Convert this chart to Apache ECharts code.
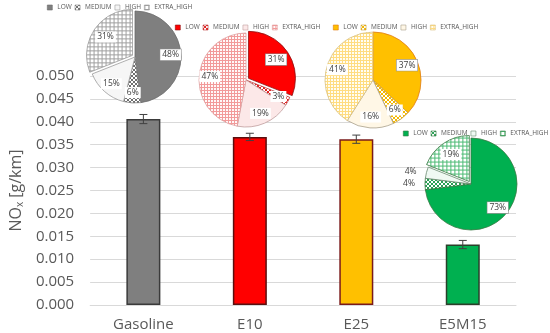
<!DOCTYPE html>
<html><head><meta charset="utf-8">
<script src="https://cdn.jsdelivr.net/npm/echarts@6/dist/echarts.min.js"></script>
<style>html,body{margin:0;padding:0;background:#fff}#c{width:550px;height:333px}</style>
</head><body><div id="c"></div>
<script>
// ---- data ----
const categories = ['Gasoline', 'E10', 'E25', 'E5M15'];
const noxValues = [0.0406, 0.0367, 0.0362, 0.0132];
const noxErrors = [0.0010, 0.0008, 0.0009, 0.0009];
const levelNames = ['LOW', 'MEDIUM', 'HIGH', 'EXTRA_HIGH'];
const shareGasoline = [48, 6, 15, 31];
const shareE10 = [31, 3, 19, 47];
const shareE25 = [37, 6, 16, 41];
const shareE5M15 = [73, 4, 4, 19];
const yMin = 0, yMax = 0.05, yStep = 0.005;

// ---- styles ----
const FONT = 'Open Sans';
function pattern(kind, fg, bg, size) {
  const s = size || 4;
  const c = document.createElement('canvas');
  c.width = s; c.height = s;
  const g = c.getContext('2d');
  g.fillStyle = bg; g.fillRect(0, 0, s, s);
  g.fillStyle = fg;
  if (kind === 'grid') {
    g.fillRect(0, 0, s, 1); g.fillRect(0, 0, 1, s);
  } else if (kind === 'diag') {
    for (let i = 0; i < s; i++) { g.fillRect(i, i, 1, 1); g.fillRect(s - 1 - i, i, 1, 1); }
  }
  return { image: c, repeat: 'repeat' };
}
const pieStyles = {
  Gasoline: [
    { color: '#7f7f7f', border: '#6b6b6b' },
    { color: pattern('diag', '#6f6f6f', '#ffffff', 4), border: '#7f7f7f' },
    { color: '#f6f6f6', border: '#9a9a9a' },
    { color: pattern('grid', '#a0a0a0', '#ffffff', 4), border: '#9a9a9a' }
  ],
  E10: [
    { color: '#ff0000', border: '#8b1010' },
    { color: pattern('diag', '#e02020', '#ffffff', 4), border: '#c04040' },
    { color: '#fce8e8', border: '#c0a0a0' },
    { color: pattern('grid', '#f29a9a', '#fff8f8', 3), border: '#e0a0a0' }
  ],
  E25: [
    { color: '#ffc000', border: '#e07a10' },
    { color: pattern('diag', '#f5b800', '#ffffff', 4), border: '#c8a040' },
    { color: '#fff7e6', border: '#a8a08c' },
    { color: pattern('grid', '#ffdc80', '#fffdf2', 3), border: '#d8c080' }
  ],
  E5M15: [
    { color: '#00b050', border: '#3a7a44' },
    { color: pattern('diag', '#2aa055', '#ffffff', 4), border: '#3a7a44' },
    { color: '#f0f9f3', border: '#6a8a70' },
    { color: pattern('grid', '#4cbb74', '#ffffff', 4), border: '#3a7a44' }
  ]
};
const barStyles = [
  { color: '#7f7f7f', border: '#3a3a3a' },
  { color: '#ff0000', border: '#5a1010' },
  { color: '#ffc000', border: '#7a1a1a' },
  { color: '#00b050', border: '#2a402a' }
];
const pieLayout = {
  Gasoline: { center: [135, 57], r: 46, exploded: [3] },
  E10: { center: [246, 80], r: 47, exploded: [0] },
  E25: { center: [373, 80], r: 48, exploded: [] },
  E5M15: { center: [471, 184], r: 46, exploded: [3] }
};
const legendLayout = {
  Gasoline: { left: 47, top: 4 },
  E10: { left: 175, top: 24 },
  E25: { left: 333, top: 24 },
  E5M15: { left: 403, top: 130 }
};
const pieData = { Gasoline: shareGasoline, E10: shareE10, E25: shareE25, E5M15: shareE5M15 };

const series = [];
series.push({
  type: 'bar', barWidth: 34, z: 2,
  data: noxValues.map((v, i) => ({ value: v, itemStyle: { color: barStyles[i].color, borderColor: barStyles[i].border, borderWidth: 1.5 } })),
  animation: false
});
series.push({
  type: 'custom', z: 5, animation: false,
  data: noxValues.map((v, i) => [i, v, noxErrors[i]]),
  renderItem: function (params, api) {
    const i = api.value(0), v = api.value(1), e = api.value(2);
    const hi = api.coord([i, v + e]), lo = api.coord([i, v - e]);
    const w = 4;
    const st = { stroke: '#404040', lineWidth: 1 };
    return { type: 'group', children: [
      { type: 'line', shape: { x1: hi[0], y1: hi[1], x2: lo[0], y2: lo[1] }, style: st },
      { type: 'line', shape: { x1: hi[0] - w, y1: hi[1], x2: hi[0] + w, y2: hi[1] }, style: st },
      { type: 'line', shape: { x1: lo[0] - w, y1: lo[1], x2: lo[0] + w, y2: lo[1] }, style: st }
    ] };
  }
});

const legends = [];
categories.forEach(function (cat) {
  const L = pieLayout[cat], S = pieStyles[cat], D = pieData[cat];
  series.push({
    type: 'pie', center: L.center, radius: L.r, startAngle: 90, clockwise: true,
    selectedMode: 'multiple', selectedOffset: 3, silent: true, animation: false, z: 10,
    label: { show: false }, labelLine: { show: false },
    data: levelNames.map((n, j) => ({
      name: n, value: D[j], selected: L.exploded.indexOf(j) >= 0,
      itemStyle: { color: S[j].color, borderColor: S[j].border, borderWidth: 0.8 }
    }))
  });
  series.push({
    type: 'pie', center: L.center, radius: [L.r * 0.42, L.r], startAngle: 90, clockwise: true,
    silent: true, animation: false, z: 12, avoidLabelOverlap: true,
    itemStyle: { color: 'rgba(0,0,0,0)', borderWidth: 0 },
    label: {
      show: true, position: 'inside', formatter: '{c}%', fontSize: 8.5, fontFamily: FONT,
      color: '#404040', backgroundColor: '#ffffff', padding: [1, 2]
    },
    labelLine: { show: false, length: 3, length2: 2 },
    data: levelNames.map((n, j) => {
      const item = { name: n, value: D[j] };
      if (j === 0) item.label = { borderColor: '#8c8c8c', borderWidth: 0.6 };
      if (cat === 'E5M15' && (j === 1 || j === 2)) {
        item.label = { position: 'outside', backgroundColor: 'transparent', padding: 0 };
      }
      return item;
    })
  });
  legends.push({
    left: legendLayout[cat].left, top: legendLayout[cat].top, orient: 'horizontal',
    itemWidth: 5, itemHeight: 5, itemGap: 3, padding: 0, selectedMode: false, icon: 'rect',
    textStyle: { fontSize: 6.5, color: '#595959', fontFamily: FONT },
    data: levelNames.map((n, j) => ({
      name: n, icon: 'rect',
      itemStyle: { color: S[j].color, borderColor: S[j].border, borderWidth: 0.6 }
    }))
  });
});

const chart = echarts.init(document.getElementById('c'));
chart.setOption({
  backgroundColor: '#ffffff',
  animation: false,
  textStyle: { fontFamily: FONT },
  legend: legends,
  grid: { left: 85, right: 34, top: 76, bottom: 28, containLabel: false },
  xAxis: {
    type: 'category', data: categories,
    axisLine: { lineStyle: { color: '#d9d9d9' } },
    axisTick: { show: false },
    axisLabel: { fontSize: 15, color: '#595959', fontFamily: FONT, margin: 12 }
  },
  yAxis: {
    type: 'value', min: yMin, max: yMax, interval: yStep,
    name: 'NO{sub|x} [g/km]', nameLocation: 'middle', nameGap: 62, nameRotate: 90,
    nameTextStyle: {
      fontSize: 16, color: '#595959', fontFamily: FONT,
      rich: { sub: { fontSize: 10, color: '#595959', fontFamily: FONT, verticalAlign: 'bottom', padding: [8, 0, 0, 0] } }
    },
    axisLine: { show: false }, axisTick: { show: false },
    splitLine: { lineStyle: { color: '#d9d9d9', width: 1 } },
    axisLabel: { fontSize: 15, color: '#595959', fontFamily: FONT, margin: 16, formatter: v => v.toFixed(3) }
  },
  series: series
});
</script></body></html>
